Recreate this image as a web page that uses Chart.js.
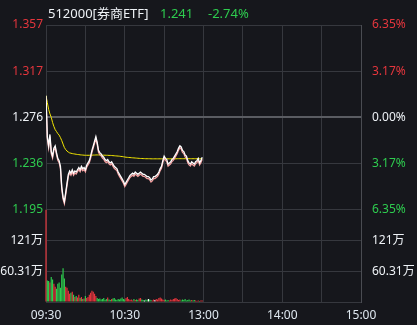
<!DOCTYPE html>
<html>
<head>
<meta charset="utf-8">
<script src="https://cdn.jsdelivr.net/npm/chart.js@4/dist/chart.umd.min.js"></script>
<style>
  html, body { margin: 0; padding: 0; background: #16171c; }
</style>
</head>
<body>
<canvas id="chart" width="417" height="325"></canvas>
<script>
// header
const titleName = '512000[券商ETF]';
const lastPrice = '1.241';
const changePct = '-2.74%';
const prevClose = 1.276;

// axes
const timeLabels = ['09:30', '10:30', '13:00', '14:00', '15:00'];
const priceMin = 1.195;
const priceMax = 1.357;
const priceTickLabels = ['1.195', '1.236', '1.276', '1.317', '1.357'];
const pctTickLabels = ['6.35%', '3.17%', '0.00%', '3.17%', '6.35%'];
const volTickValues = [0, 60.31, 120.62];
const volTickLabels = ['', '60.31万', '121万'];
const volMax = 180.93;

// one value per minute from 09:30
const prices = [
  1.295, 1.259, 1.251, 1.261, 1.246, 1.242, 1.249, 1.251, 1.245, 1.240,
  1.238, 1.233, 1.215, 1.206, 1.202, 1.210, 1.218, 1.226, 1.229, 1.227,
  1.230, 1.227, 1.229, 1.228, 1.230, 1.232, 1.230, 1.233, 1.231, 1.232,
  1.230, 1.234, 1.236, 1.238, 1.242, 1.247, 1.251, 1.255, 1.259, 1.254,
  1.247, 1.245, 1.244, 1.242, 1.241, 1.239, 1.238, 1.239, 1.237, 1.236,
  1.237, 1.235, 1.233, 1.232, 1.231, 1.228, 1.226, 1.224, 1.222, 1.220,
  1.217, 1.219, 1.221, 1.223, 1.225, 1.226, 1.227, 1.226, 1.228, 1.227,
  1.226, 1.227, 1.228, 1.227, 1.226, 1.226, 1.225, 1.224, 1.224, 1.223,
  1.221, 1.222, 1.224, 1.224, 1.225, 1.226, 1.228, 1.231, 1.233, 1.238,
  1.242, 1.240, 1.239, 1.235, 1.236, 1.237, 1.239, 1.240, 1.242, 1.244,
  1.246, 1.249, 1.251, 1.250, 1.247, 1.246, 1.243, 1.242, 1.238, 1.236,
  1.235, 1.237, 1.236, 1.235, 1.237, 1.238, 1.240, 1.236, 1.238, 1.241
];

const avgPrices = [
  1.2950, 1.2890, 1.2830, 1.2790, 1.2760, 1.2715, 1.2680, 1.2652, 1.2635, 1.2617,
  1.2604, 1.2582, 1.2556, 1.2525, 1.2495, 1.2477, 1.2464, 1.2455, 1.2448, 1.2445,
  1.2442, 1.2440, 1.2438, 1.2436, 1.2434, 1.2433, 1.2431, 1.2430, 1.2429, 1.2428,
  1.2427, 1.2427, 1.2427, 1.2427, 1.2428, 1.2428, 1.2429, 1.2429, 1.2430, 1.2430,
  1.2430, 1.2429, 1.2429, 1.2428, 1.2428, 1.2428, 1.2427, 1.2427, 1.2426, 1.2426,
  1.2425, 1.2424, 1.2423, 1.2422, 1.2421, 1.2420, 1.2419, 1.2417, 1.2416, 1.2414,
  1.2412, 1.2410, 1.2409, 1.2408, 1.2407, 1.2406, 1.2405, 1.2404, 1.2403, 1.2402,
  1.2401, 1.2400, 1.2399, 1.2399, 1.2398, 1.2398, 1.2397, 1.2397, 1.2397, 1.2397,
  1.2396, 1.2396, 1.2396, 1.2396, 1.2396, 1.2396, 1.2396, 1.2396, 1.2396, 1.2396,
  1.2396, 1.2396, 1.2396, 1.2396, 1.2396, 1.2396, 1.2396, 1.2396, 1.2396, 1.2396,
  1.2397, 1.2397, 1.2397, 1.2397, 1.2397, 1.2397, 1.2397, 1.2397, 1.2397, 1.2397,
  1.2397, 1.2397, 1.2397, 1.2397, 1.2397, 1.2397, 1.2397, 1.2397, 1.2397, 1.2397
];

// volume in 万
const volumes = [
  230, 42, 41, 38, 49, 44, 36, 30, 26, 36,
  38, 28, 54, 66, 46, 30, 28, 22, 16, 18,
  20, 14, 10, 12, 9, 14, 8, 10, 6, 7,
  12, 8, 10, 14, 18, 22, 20, 16, 12, 8,
  6, 7, 5, 6, 8, 4, 6, 9, 5, 4,
  6, 7, 8, 5, 4, 6, 5, 7, 9, 6,
  5, 8, 10, 6, 4, 5, 3, 6, 4, 5,
  4, 7, 8, 5, 4, 3, 5, 4, 6, 5,
  4, 3, 5, 4, 6, 5, 8, 9, 7, 5,
  4, 5, 3, 4, 3, 5, 4, 6, 7, 8,
  6, 4, 5, 3, 5, 4, 6, 3, 4, 5,
  3, 4, 3, 4, 3, 2, 3, 2, 3, 3
];

const RED = '#e5363d';
const GREEN = '#2ecc4f';
const WHITE = '#eef2f6';
const GRID = '#36383e';
const FONT = "'Noto Sans', 'Noto Sans CJK SC', sans-serif";

const tickColors = [GREEN, GREEN, WHITE, RED, RED];

const volColors = prices.map((p, i) => {
  const before = i === 0 ? prevClose : prices[i - 1];
  if (p > before) return RED;
  if (p < before) return GREEN;
  return '#ffffff';
});

const pricePoints = prices.map((p, i) => ({ x: i, y: p }));
const avgPoints = avgPrices.map((p, i) => ({ x: i, y: p }));
const volPoints = volumes.map((v, i) => ({ x: i, y: v }));

function quarterTicks(min, max) {
  const out = [];
  for (let i = 0; i <= 4; i++) out.push({ value: min + (max - min) * i / 4 });
  return out;
}

// clip volume bars to their own panel, shadow under the price line
const panelPlugin = {
  id: 'panels',
  beforeDatasetDraw(chart, args) {
    const ctx = chart.ctx;
    if (args.meta.type === 'bar') {
      const s = chart.scales.yVol;
      ctx.save();
      ctx.beginPath();
      ctx.rect(chart.chartArea.left - 1, s.top, chart.chartArea.width + 1, s.bottom - s.top);
      ctx.clip();
    } else if (args.index === 0) {
      ctx.save();
      ctx.shadowColor = 'rgba(255, 165, 165, 0.95)';
      ctx.shadowOffsetX = 0;
      ctx.shadowOffsetY = 2;
      ctx.shadowBlur = 0;
    }
  },
  afterDatasetDraw(chart, args) {
    if (args.meta.type === 'bar' || args.index === 0) chart.ctx.restore();
  },
  afterDraw(chart) {
    const ctx = chart.ctx;
    ctx.save();
    ctx.font = '13px ' + FONT;
    ctx.textBaseline = 'middle';
    ctx.fillStyle = WHITE;
    ctx.fillText(titleName, 48, 14);
    ctx.fillStyle = GREEN;
    ctx.fillText(lastPrice, 160, 14);
    ctx.fillText(changePct, 208, 14);
    ctx.restore();
  }
};

new Chart(document.getElementById('chart'), {
  data: {
    datasets: [
      {
        type: 'line',
        data: pricePoints,
        xAxisID: 'x',
        yAxisID: 'yPrice',
        borderColor: '#ffffff',
        borderWidth: 1.3,
        pointRadius: 0,
        tension: 0
      },
      {
        type: 'line',
        data: avgPoints,
        xAxisID: 'x',
        yAxisID: 'yPrice',
        borderColor: '#f2e600',
        borderWidth: 1,
        pointRadius: 0,
        tension: 0
      },
      {
        type: 'bar',
        data: volPoints,
        xAxisID: 'x',
        yAxisID: 'yVol',
        backgroundColor: volColors,
        barPercentage: 1,
        categoryPercentage: 0.9,
        clip: 3
      }
    ]
  },
  options: {
    responsive: false,
    animation: false,
    layout: { padding: { top: 25, left: 0, right: 0, bottom: 0 } },
    plugins: {
      legend: { display: false },
      tooltip: { enabled: false }
    },
    scales: {
      x: {
        type: 'linear',
        min: 0,
        max: 240,
        offset: false,
        afterBuildTicks: s => {
          s.ticks = [0, 30, 60, 90, 120, 150, 180, 210, 240].map(v => ({ value: v }));
        },
        afterFit: s => { s.height = 23; },
        ticks: {
          autoSkip: false,
          maxRotation: 0,
          padding: 6,
          color: '#dfe8f0',
          font: { family: FONT, size: 12 },
          callback: v => (v % 60 === 0 ? timeLabels[v / 60] : '')
        },
        grid: { color: GRID, drawTicks: false, offset: false },
        border: { color: GRID }
      },
      yVol: {
        type: 'linear',
        position: 'left',
        stack: 'left',
        stackWeight: 1,
        min: 0,
        max: volMax,
        afterBuildTicks: s => { s.ticks = volTickValues.map(v => ({ value: v })); },
        afterFit: s => { s.width = 46; },
        ticks: {
          padding: 3,
          color: WHITE,
          font: { family: FONT, size: 12 },
          callback: (v, i) => volTickLabels[i]
        },
        grid: { color: GRID, drawTicks: false },
        border: { color: GRID }
      },
      yPrice: {
        type: 'linear',
        position: 'left',
        stack: 'left',
        stackWeight: 2,
        min: priceMin,
        max: priceMax,
        afterBuildTicks: s => { s.ticks = quarterTicks(priceMin, priceMax); },
        afterFit: s => { s.width = 46; },
        ticks: {
          padding: 3,
          color: ctx => tickColors[ctx.index],
          font: { family: FONT, size: 12 },
          callback: (v, i) => priceTickLabels[i]
        },
        grid: {
          drawTicks: false,
          color: ctx => (ctx.index === 2 ? '#5a5c62' : GRID),
          lineWidth: ctx => (ctx.index === 2 ? 2 : 1)
        },
        border: { color: GRID }
      },
      yPct: {
        type: 'linear',
        position: 'right',
        stack: 'right',
        stackWeight: 2,
        min: -6.35,
        max: 6.35,
        afterBuildTicks: s => { s.ticks = quarterTicks(-6.35, 6.35); },
        afterFit: s => { s.width = 56; },
        ticks: {
          padding: 3,
          color: ctx => tickColors[ctx.index],
          font: { family: FONT, size: 12 },
          callback: (v, i) => pctTickLabels[i]
        },
        grid: { display: false },
        border: { color: '#4a4c52' }
      },
      yVolR: {
        type: 'linear',
        position: 'right',
        stack: 'right',
        stackWeight: 1,
        min: 0,
        max: volMax,
        afterBuildTicks: s => { s.ticks = volTickValues.map(v => ({ value: v })); },
        afterFit: s => { s.width = 56; },
        ticks: {
          padding: 3,
          color: WHITE,
          font: { family: FONT, size: 12 },
          callback: (v, i) => volTickLabels[i]
        },
        grid: { display: false },
        border: { color: '#4a4c52' }
      }
    }
  },
  plugins: [panelPlugin]
});
</script>
</body>
</html>
